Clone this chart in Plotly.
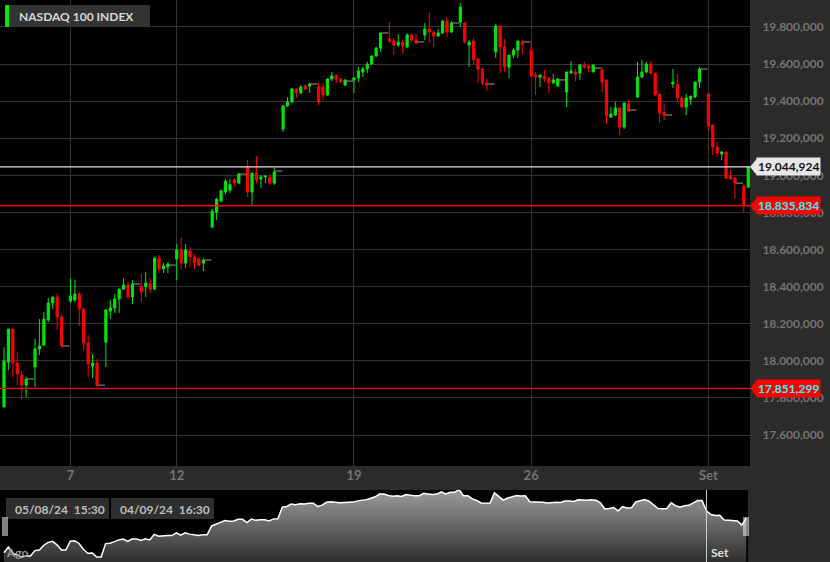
import plotly.graph_objs as go

# hourly candles, Aug 5 - Sep 4 2024 (8 bars per session, last bar of the day is the 22:00 tick)
opens = [17751, 17993, 18171, 17988, 17923, 17869, 17902,
         17967, 18064, 18085, 18220, 18312, 18344, 18236, 18080,
         18322, 18328, 18360, 18279, 18096, 17972, 17988, 17869,
         18101, 18268, 18285, 18333, 18387, 18409, 18344, 18414,
         18403, 18398, 18414, 18387, 18554, 18495, 18506, 18516,
         18549, 18597, 18527, 18592, 18560, 18549, 18527, 18543,
         18721, 18802, 18861, 18910, 18920, 18975, 18958, 19007,
         19045, 18910, 19012, 18980, 18991, 18991, 18958, 19023,
         19250, 19374, 19395, 19465, 19444, 19481, 19481, 19492,
         19476, 19476, 19433, 19519, 19535, 19519, 19487, 19508,
         19514, 19525, 19557, 19573, 19600, 19643, 19686, 19767,
         19735, 19724, 19702, 19718, 19692, 19756, 19729, 19719,
         19756, 19789, 19772, 19751, 19767, 19832, 19772, 19821,
         19826, 19821, 19702, 19724, 19627, 19573, 19498, 19492,
         19665, 19805, 19692, 19584, 19648, 19675, 19719, 19719,
         19675, 19541, 19530, 19535, 19524, 19498, 19481, 19514,
         19449, 19551, 19557, 19551, 19595, 19589, 19557, 19578,
         19568, 19514, 19314, 19325, 19363, 19260, 19384, 19352,
         19422, 19530, 19557, 19600, 19551, 19438, 19341, 19325,
         19492, 19492, 19417, 19368, 19411, 19422, 19503, 19573,
         19438, 19271, 19152, 19115, 19126, 18996, 18985, 18958,
         18942, 18937]
highs = [18074, 18171, 18171, 18047, 17945, 17913, 17902,
         18118, 18225, 18263, 18339, 18344, 18365, 18247, 18080,
         18446, 18436, 18371, 18285, 18139, 18037, 18010, 17869,
         18279, 18328, 18360, 18387, 18446, 18425, 18436, 18414,
         18468, 18479, 18446, 18560, 18570, 18527, 18533, 18516,
         18630, 18667, 18630, 18613, 18576, 18560, 18554, 18543,
         18818, 18878, 18926, 18980, 18980, 18985, 19012, 19007,
         19082, 19012, 19104, 19002, 19002, 19007, 19039, 19023,
         19379, 19422, 19471, 19471, 19487, 19492, 19498, 19492,
         19498, 19498, 19524, 19557, 19546, 19524, 19514, 19508,
         19530, 19584, 19584, 19611, 19648, 19692, 19767, 19767,
         19826, 19740, 19762, 19729, 19767, 19767, 19762, 19719,
         19821, 19880, 19778, 19789, 19837, 19853, 19832, 19821,
         19929, 19826, 19729, 19740, 19632, 19578, 19524, 19492,
         19816, 19810, 19735, 19648, 19686, 19724, 19729, 19719,
         19724, 19557, 19541, 19568, 19530, 19546, 19524, 19514,
         19557, 19616, 19573, 19600, 19611, 19595, 19595, 19578,
         19584, 19514, 19368, 19395, 19368, 19390, 19406, 19352,
         19611, 19622, 19611, 19616, 19551, 19444, 19390, 19325,
         19573, 19546, 19427, 19438, 19427, 19503, 19584, 19573,
         19438, 19271, 19180, 19131, 19126, 19029, 18991, 18958,
         18953, 19045]
lows = [17751, 17950, 17913, 17869, 17789, 17805, 17902,
        17859, 18031, 18080, 18209, 18279, 18166, 18069, 18080,
        18312, 18317, 18188, 18058, 17913, 17907, 17859, 17869,
        17967, 18225, 18258, 18258, 18382, 18333, 18306, 18414,
        18317, 18344, 18365, 18382, 18473, 18473, 18473, 18516,
        18436, 18495, 18500, 18506, 18495, 18511, 18484, 18543,
        18716, 18759, 18856, 18899, 18904, 18937, 18953, 19007,
        18883, 18840, 18958, 18932, 18958, 18948, 18948, 19023,
        19233, 19368, 19390, 19417, 19438, 19460, 19444, 19492,
        19379, 19406, 19427, 19508, 19498, 19498, 19481, 19508,
        19444, 19503, 19530, 19551, 19595, 19638, 19665, 19767,
        19713, 19648, 19692, 19659, 19686, 19719, 19708, 19719,
        19729, 19713, 19692, 19746, 19762, 19746, 19767, 19821,
        19799, 19713, 19584, 19600, 19498, 19487, 19454, 19492,
        19632, 19551, 19557, 19524, 19632, 19632, 19654, 19719,
        19530, 19433, 19476, 19503, 19444, 19492, 19481, 19514,
        19368, 19551, 19508, 19514, 19573, 19557, 19557, 19578,
        19449, 19277, 19309, 19320, 19217, 19250, 19341, 19352,
        19417, 19524, 19551, 19541, 19427, 19282, 19298, 19325,
        19471, 19395, 19363, 19325, 19379, 19417, 19471, 19573,
        19244, 19109, 19099, 19082, 18980, 18975, 18872, 18958,
        18802, 18932]
closes = [17999, 18171, 17988, 17929, 17869, 17902, 17902,
          18064, 18080, 18225, 18312, 18344, 18236, 18080, 18080,
          18349, 18360, 18279, 18096, 17983, 17988, 17869, 17869,
          18274, 18285, 18333, 18387, 18409, 18344, 18414, 18414,
          18371, 18419, 18387, 18554, 18495, 18511, 18522, 18516,
          18597, 18527, 18597, 18560, 18527, 18516, 18543, 18543,
          18807, 18872, 18915, 18969, 18950, 18958, 19007, 19007,
          18910, 19012, 18975, 18991, 18996, 18958, 19018, 19023,
          19374, 19395, 19465, 19444, 19476, 19465, 19492, 19492,
          19395, 19433, 19519, 19535, 19519, 19503, 19514, 19508,
          19525, 19562, 19573, 19600, 19643, 19686, 19767, 19767,
          19724, 19702, 19718, 19697, 19756, 19729, 19713, 19719,
          19789, 19772, 19751, 19767, 19832, 19772, 19821, 19821,
          19907, 19719, 19718, 19622, 19573, 19498, 19487, 19492,
          19805, 19692, 19584, 19648, 19675, 19724, 19708, 19719,
          19535, 19530, 19541, 19519, 19498, 19514, 19519, 19514,
          19557, 19562, 19546, 19595, 19584, 19578, 19595, 19578,
          19503, 19320, 19330, 19363, 19260, 19390, 19347, 19352,
          19530, 19557, 19600, 19551, 19433, 19336, 19325, 19325,
          19503, 19417, 19368, 19417, 19427, 19503, 19573, 19573,
          19266, 19152, 19120, 19126, 18985, 18980, 18958, 18958,
          18835.834, 19044.924]

tick_idx = [15, 39, 79, 119, 159]
tick_labels = ['7', '12', '19', '26', 'Set']
last_price = 19044.924
last_low = 18835.834
period_low = 17851.299
y_ticks = [17600, 17800, 18000, 18200, 18400, 18600, 18800, 19000, 19200, 19400, 19600, 19800]

GREEN = '#00e60a'
RED = '#ff0000'
GRID = '#333333'
AXIS_TXT = '#747474'
XD = 750 / 830

idx = list(range(len(closes)))
bars = [i for i in idx if not (opens[i] == highs[i] == lows[i] == closes[i])]
ticks_eod = [i for i in idx if i not in bars]

candles = go.Candlestick(
    x=bars,
    open=[opens[i] for i in bars], high=[highs[i] for i in bars],
    low=[lows[i] for i in bars], close=[closes[i] for i in bars],
    increasing=dict(line=dict(color=GREEN, width=1), fillcolor=GREEN),
    decreasing=dict(line=dict(color=RED, width=1), fillcolor=RED),
    whiskerwidth=0, hoverinfo='skip', xaxis='x', yaxis='y'
)
eod = go.Scatter(
    x=ticks_eod, y=[closes[i] for i in ticks_eod], mode='markers',
    marker=dict(symbol='line-ew', size=5, line=dict(color='#9a9a9a', width=1)),
    hoverinfo='skip', xaxis='x', yaxis='y'
)
nav = go.Scatter(
    x=idx, y=closes, mode='lines', line=dict(color='white', width=1.5),
    fill='tozeroy',
    fillgradient=dict(type='vertical', start=17720, stop=19890,
                      colorscale=[[0, '#2e2e2e'], [1, '#9c9c9c']]),
    hoverinfo='skip', xaxis='x2', yaxis='y2'
)

x_rng = [-0.9, 168.4]
fig = go.Figure(data=[nav, candles, eod])

shapes = []
for val, col in [(last_price, '#e6e6e6'), (last_low, RED), (period_low, RED)]:
    shapes.append(dict(type='line', xref='paper', yref='y', x0=0, x1=XD,
                       y0=val, y1=val, line=dict(color=col, width=1.3)))
shapes += [
    dict(type='rect', xref='paper', yref='paper', x0=5 / 830, x1=9 / 830,
         y0=1 - 27 / 562, y1=1 - 5 / 562, fillcolor=GREEN, line_width=0),
    dict(type='rect', xref='paper', yref='paper', x0=9 / 830, x1=150 / 830,
         y0=1 - 27 / 562, y1=1 - 5 / 562, fillcolor='#333333', line_width=0),
    dict(type='line', xref='x2', yref='paper', x0=159, x1=159, y0=0, y1=72 / 562,
         line=dict(color='#cfcfcf', width=1)),
    dict(type='rect', xref='paper', yref='paper', x0=6 / 830, x1=109 / 830,
         y0=(562 - 519) / 562, y1=(562 - 498) / 562, fillcolor='#2e2e2e', line_width=0),
    dict(type='rect', xref='paper', yref='paper', x0=111 / 830, x1=214 / 830,
         y0=(562 - 519) / 562, y1=(562 - 498) / 562, fillcolor='#2e2e2e', line_width=0),
]
for hx in [3, 5, 7, 744, 746, 748]:
    shapes.append(dict(type='line', xref='paper', yref='paper', x0=hx / 830, x1=hx / 830,
                       y0=(562 - 536) / 562, y1=(562 - 517) / 562,
                       line=dict(color='white', width=1)))

annotations = [
    dict(text='<b>NASDAQ 100 INDEX</b>', xref='paper', yref='paper', x=17 / 830,
         y=1 - 16 / 562, xanchor='left', yanchor='middle', showarrow=False,
         font=dict(family='Lato', size=12, color='#d8d8d8')),
    dict(text='<b>05/08/24  15:30</b>', xref='paper', yref='paper', x=13 / 830,
         y=(562 - 509) / 562, xanchor='left', yanchor='middle', showarrow=False,
         font=dict(family='Lato', size=12, color='#bdbdbd')),
    dict(text='<b>04/09/24  16:30</b>', xref='paper', yref='paper', x=118 / 830,
         y=(562 - 509) / 562, xanchor='left', yanchor='middle', showarrow=False,
         font=dict(family='Lato', size=12, color='#bdbdbd')),
    dict(text='<b>Ago</b>', xref='paper', yref='paper', x=4 / 830, y=(562 - 552) / 562,
         xanchor='left', yanchor='middle', showarrow=False,
         font=dict(family='Lato', size=12, color='#9a9a9a')),
    dict(text='<b>Set</b>', xref='paper', yref='paper', x=709 / 830, y=(562 - 552) / 562,
         xanchor='left', yanchor='middle', showarrow=False,
         font=dict(family='Lato', size=12, color='#e0e0e0')),
]
for val, bg, fg in [(last_price, '#e6e6e6', '#111111'), (last_low, RED, '#2ef2ff'),
                    (period_low, RED, '#2ef2ff')]:
    annotations.append(dict(
        text='<b>' + '{:,.3f}'.format(val).replace(',', 'X').replace('.', ',').replace('X', '.') + '</b>',
        xref='paper', yref='y', x=756 / 830, y=val, xanchor='left', yanchor='middle',
        showarrow=False, bgcolor=bg, borderpad=1,
        font=dict(family='Lato', size=12, color=fg)))
    shapes.append(dict(type='path', xref='paper', yref='y',
                       path='M {} {} L {} {} L {} {} Z'.format(
                           757 / 830, val + 45, 750 / 830, val, 757 / 830, val - 45),
                       fillcolor=bg, line_width=0))

fig.update_layout(
    width=830, height=562, margin=dict(l=0, r=0, t=0, b=0),
    paper_bgcolor='#2b2b2b', plot_bgcolor='black', showlegend=False,
    separators=',.', font=dict(family='Lato'),
    shapes=shapes, annotations=annotations,
    xaxis=dict(domain=[0, XD], range=x_rng, tickvals=tick_idx, ticktext=tick_labels,
               showgrid=True, gridcolor=GRID, zeroline=False, rangeslider=dict(visible=False),
               tickfont=dict(size=13, color=AXIS_TXT, weight='bold'), ticks='', ticklen=0,
               anchor='y', fixedrange=True),
    yaxis=dict(domain=[96 / 562, 1], range=[17433, 19945], side='right', tickvals=y_ticks,
               tickformat=',.3f', showgrid=True, gridcolor=GRID, zeroline=False,
               tickfont=dict(size=12, color=AXIS_TXT, weight='bold'), anchor='x',
               ticks='outside', ticklen=9, tickcolor='#2b2b2b'),
    xaxis2=dict(domain=[0, 748 / 830], range=x_rng, visible=False, anchor='y2'),
    yaxis2=dict(domain=[0, 72 / 562], range=[17720, 19890], visible=False, anchor='x2'),
)

fig.write_html("out.html", config={'displayModeBar': False},
               post_script="document.body.style.margin='0';")
